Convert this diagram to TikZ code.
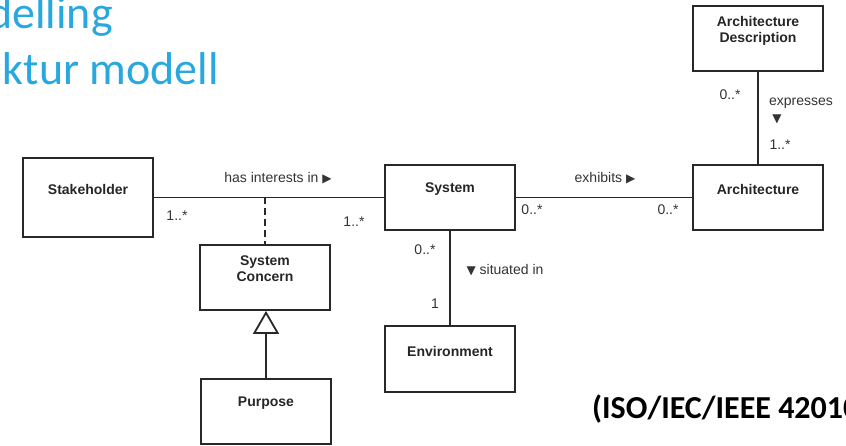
\documentclass[tikz,border=0pt]{standalone}
\usepackage{fontspec}
\setmainfont{Liberation Sans}
\newfontfamily\titlefont{Carlito}
\newfontfamily\symfont{DejaVu Sans}
\usetikzlibrary{arrows.meta}
\definecolor{titleblue}{RGB}{41,168,224}
\definecolor{umlline}{RGB}{40,40,40}
\newcommand{\rtri}{{\symfont\fontsize{12}{12}\selectfont ▶}}
\newcommand{\dtri}{{\symfont\fontsize{12}{12}\selectfont ▼}}
\begin{document}
\begin{tikzpicture}[x=1pt,y=-1pt,
  classbox/.style={draw=umlline, line width=1.8pt, minimum width=130pt,
    minimum height=65pt, inner sep=0pt},
  classname/.style={font=\fontsize{14}{16.5}\selectfont\bfseries, text=black!85,
    align=center, inner sep=0pt},
  assoc/.style={draw=umlline, line width=1.8pt},
  lbl/.style={font=\fontsize{14}{16}\selectfont, text=black!80, inner sep=0pt},
  mult/.style={font=\fontsize{14}{16}\selectfont, text=black!80, inner sep=0pt}]
\useasboundingbox (0,0) rectangle (846,446);
\clip (0,0) rectangle (846,446);

% heading, cut off at the page edge
\node[font=\titlefont\fontsize{46}{50}\selectfont, text=titleblue, anchor=base east,
  inner sep=0pt] (head1) at (113,29) {delling};
\node[font=\titlefont\fontsize{46}{50}\selectfont, text=titleblue, anchor=base east,
  inner sep=0pt] (head2) at (219,85) {ktur modell};

% classes
\node[classbox, minimum height=79pt] (stake) at (88,197.5) {};
\node[classbox] (concern) at (265,277.5) {};
\node[classbox] (system) at (450,197.5) {};
\node[classbox] (arch) at (758,197.5) {};
\node[classbox] (archdesc) at (758,38.5) {};
\node[classbox, minimum height=66pt] (env) at (450,359) {};
\node[classbox] (purpose) at (266,411.5) {};

\node[classname] (stakeN) at (88,189) {Stakeholder};
\node[classname] (concernN) at (265,268.5) {System\\Concern};
\node[classname] (systemN) at (450,189) {System};
\node[classname] (archN) at (758,189) {Architecture};
\node[classname] (archdescN) at (758,31) {Architecture\\Description};
\node[classname] (envN) at (450,351) {Environment};
\node[classname] (purposeN) at (266,403) {Purpose};

% associations
\draw[assoc] (stake.east) -- (system.west);
\coordinate (assocpt) at (265,197.5);
\draw[assoc, dash pattern=on 7pt off 4pt] (assocpt) -- (concern.north);
\draw[assoc] (system.east) -- (arch.west);
\draw[assoc] (archdesc.south) -- (arch.north);
\draw[assoc] (system.south) -- (env.north);
\draw[assoc, line width=2.4pt,
  -{Triangle[open, length=23pt, width=26pt, line width=1.8pt]}]
  (purpose.north) -- (purpose.north |- concern.south);

% association names and multiplicities
\node[lbl] (hasint) at (278,178) {has interests in \rtri};
\node[mult] (m1) at (177,216) {1..*};
\node[mult] (m2) at (354,222) {1..*};
\node[lbl] (exhib) at (605,178) {exhibits \rtri};
\node[mult] (m3) at (532,210) {0..*};
\node[mult] (m4) at (668,210) {0..*};
\node[mult] (m5) at (425,250) {0..*};
\node[lbl] (sit) at (505,270) {\dtri\ situated in};
\node[mult] (m6) at (435,304) {1};
\node[mult] (m7) at (730,95) {0..*};
\node[lbl] (expr) at (801,103) {expresses};
\node[lbl] (exprtri) at (777,119) {\dtri};
\node[mult] (m8) at (780,145) {1..*};

% reference
\node[font=\titlefont\fontsize{32}{36}\selectfont\bfseries, text=black, anchor=base west,
  inner sep=0pt] (ref) at (592,418) {(ISO/IEC/IEEE 42010};
\end{tikzpicture}
\end{document}
